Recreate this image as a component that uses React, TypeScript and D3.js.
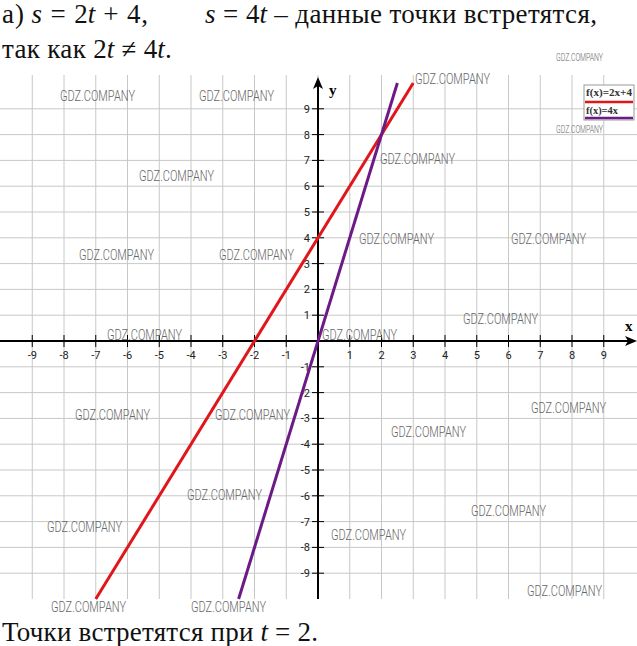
import React, { useLayoutEffect, useRef, useState } from "react";
import * as d3 from "d3";

const xTicks = [-9, -8, -7, -6, -5, -4, -3, -2, -1, 1, 2, 3, 4, 5, 6, 7, 8, 9];
const yTicks = [-9, -8, -7, -6, -5, -4, -3, -2, -1, 1, 2, 3, 4, 5, 6, 7, 8, 9];
const gridValues = [-9, -8, -7, -6, -5, -4, -3, -2, -1, 0, 1, 2, 3, 4, 5, 6, 7, 8, 9];
const redPoints: [number, number][] = [[-7, -10], [3, 10]];
const purplePoints: [number, number][] = [[-2.5, -10], [2.5, 10]];
const legendLabels = ["f(x)=2x+4", "f(x)=4x"];
const seriesColors = ["#e0161b", "#6e1a86"];

const head1a: [string, boolean][] = [["а) ", false], ["s", true], [" = 2", false], ["t", true], [" + 4,", false]];
const head1b: [string, boolean][] = [["s", true], [" = 4", false], ["t", true], [" – данные точки встретятся,", false]];
const head2: [string, boolean][] = [["так как 2", false], ["t", true], [" ≠ 4", false], ["t", true], [".", false]];
const foot: [string, boolean][] = [["Точки встретятся при ", false], ["t", true], [" = 2.", false]];

const WM: [number, number, number][] = [
  [60, 101, 75], [199, 101, 75], [415, 84, 75], [556, 61, 47], [556, 133, 47],
  [139, 181, 75], [380, 164, 75], [359, 244, 75], [511, 244, 75], [79, 260, 75],
  [219, 260, 75], [107, 340, 75], [322, 340, 75], [463, 324, 75], [75, 420, 75],
  [215, 420, 75], [531, 413, 75], [391, 437, 75], [187, 500, 75], [47, 532, 75],
  [471, 516, 75], [331, 540, 75], [51, 612, 75], [191, 612, 75], [527, 596, 75],
];

const serif = "Liberation Serif";
const narrow = "Roboto";

function Rich({ x, y, segs, len }: { x: number; y: number; segs: [string, boolean][]; len: number }) {
  const refs = useRef<(SVGTextElement | null)[]>([]);
  const [widths, setWidths] = useState<number[] | null>(null);
  useLayoutEffect(() => {
    setWidths(refs.current.map((r) => (r ? r.getComputedTextLength() : 0)));
  }, []);
  const total = widths ? widths.reduce((a, b) => a + b, 0) : 1;
  const k = widths ? len / total : 1;
  let cx = x;
  return (
    <g>
      {segs.map(([t, it], i) => {
        const w = widths ? widths[i] * k : 0;
        const px = cx;
        cx += w;
        return (
          <text key={i} ref={(el) => { refs.current[i] = el; }} x={px} y={y} fontFamily={serif} fontSize={27}
            fontStyle={it ? "italic" : "normal"} fill="#111" style={{ whiteSpace: "pre" }}
            {...(widths && t.length > 1 ? { textLength: w, lengthAdjust: "spacing" } : {})}>
            {t}
          </text>
        );
      })}
    </g>
  );
}

export default function App() {
  const x = d3.scaleLinear().domain([-10, 10]).range([0.5, 635.5]);
  const y = d3.scaleLinear().domain([-10, 10]).range([599, 83]);
  const line = d3.line<[number, number]>().x((d) => x(d[0])).y((d) => y(d[1]));
  return (
    <svg width={637} height={646} style={{ position: "absolute", left: 0, top: 0, background: "#fff" }}>
      <Rich x={2} y={23} segs={head1a} len={146} />
      <Rich x={205} y={23} segs={head1b} len={392} />
      <Rich x={2} y={58} segs={head2} len={170} />
      {/* grid */}
      {gridValues.map((v) => (
        <line key={"gx" + v} x1={x(v)} x2={x(v)} y1={75} y2={599} stroke="#c8c8c8" strokeWidth={1} />
      ))}
      {gridValues.filter((v) => v !== 0).map((v) => (
        <line key={"gy" + v} x1={0} x2={637} y1={y(v)} y2={y(v)} stroke="#c8c8c8" strokeWidth={1} />
      ))}
      {/* axes */}
      <line x1={0} x2={630} y1={y(0)} y2={y(0)} stroke="#000" strokeWidth={2} />
      <path d={`M637,${y(0)} L625,${y(0) - 5} L628,${y(0)} L625,${y(0) + 5} Z`} fill="#000" />
      <line x1={x(0)} x2={x(0)} y1={599} y2={84} stroke="#000" strokeWidth={2} />
      <path d={`M${x(0)},77 L${x(0) - 5},89 L${x(0)},86 L${x(0) + 5},89 Z`} fill="#000" />
      <text x={625} y={331} fontFamily={serif} fontWeight="bold" fontSize={15}>x</text>
      <text x={329} y={95} fontFamily={serif} fontWeight="bold" fontSize={15}>y</text>
      {xTicks.map((v) => (
        <g key={"xt" + v}>
          <line x1={x(v)} x2={x(v)} y1={y(0) - 6} y2={y(0) + 6} stroke="#000" strokeWidth={1} />
          <text x={x(v)} y={y(0) + 18} textAnchor="middle" fontFamily={narrow} fontSize={11} fill="#222">{v}</text>
        </g>
      ))}
      {yTicks.map((v) => (
        <g key={"yt" + v}>
          <line x1={x(0) - 6} x2={x(0) + 6} y1={y(v)} y2={y(v)} stroke="#000" strokeWidth={1} />
          <text x={x(0) - 8} y={y(v) + 4} textAnchor="end" fontFamily={narrow} fontSize={11} fill="#222">{v}</text>
        </g>
      ))}
      {/* series */}
      <path d={line(redPoints) || ""} stroke={seriesColors[0]} strokeWidth={3} fill="none" />
      <path d={line(purplePoints) || ""} stroke={seriesColors[1]} strokeWidth={3} fill="none" />
      {/* watermarks */}
      {WM.map(([wx, wy, w], i) => (
        <text key={"wm" + i} x={wx} y={wy} fontFamily={narrow} fontSize={w < 60 ? 10 : 15}
          textLength={w} lengthAdjust="spacingAndGlyphs" fill="#666" fontWeight={300}>GDZ.COMPANY</text>
      ))}
      {/* legend */}
      <rect x={584} y={85} width={50} height={35} fill="#fff" stroke="#999" strokeWidth={1} />
      <text x={586} y={96} fontFamily={serif} fontSize={10} fontWeight="bold" fill="#333"
        textLength={46} lengthAdjust="spacingAndGlyphs">{legendLabels[0]}</text>
      <line x1={585} x2={633} y1={102} y2={102} stroke={seriesColors[0]} strokeWidth={2.5} />
      <text x={586} y={114} fontFamily={serif} fontSize={10} fontWeight="bold" fill="#333"
        textLength={32} lengthAdjust="spacingAndGlyphs">{legendLabels[1]}</text>
      <line x1={585} x2={633} y1={118} y2={118} stroke={seriesColors[1]} strokeWidth={2.5} />
      <Rich x={2} y={641} segs={foot} len={316} />
    </svg>
  );
}
